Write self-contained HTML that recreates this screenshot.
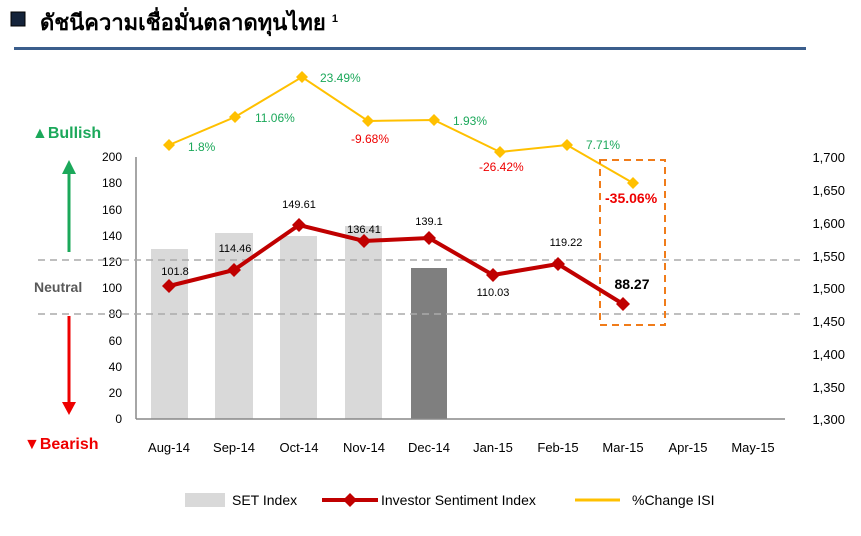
<!DOCTYPE html>
<html><head><meta charset="utf-8"><style>
body{margin:0;background:#fff;width:861px;height:531px;overflow:hidden;font-family:"Liberation Sans",Arial,sans-serif}
</style></head><body>
<svg width="861" height="531" xmlns="http://www.w3.org/2000/svg" font-family="Liberation Sans, Arial, sans-serif">
<rect x="11" y="12" width="14" height="14" fill="#14233a" stroke="#000" stroke-width="1"/>
<text x="40" y="30" font-size="22" font-weight="bold" font-family="Liberation Sans, DejaVu Sans, Noto Sans CJK SC, sans-serif" fill="#000">ดัชนีความเชื่อมั่นตลาดทุนไทย <tspan font-size="11" dy="-8">1</tspan></text>
<rect x="14" y="47" width="792" height="3" fill="#3b5e8c"/>
<g fill="#d9d9d9">
<rect x="151" y="249" width="37" height="170"/>
<rect x="215" y="233" width="38" height="186"/>
<rect x="280" y="236" width="37" height="183"/>
<rect x="345" y="226" width="37" height="193"/>
</g>
<rect x="411" y="268" width="36" height="151" fill="#7f7f7f"/>
<line x1="136" y1="157" x2="136" y2="419" stroke="#888" stroke-width="1.5"/>
<line x1="136" y1="419" x2="785" y2="419" stroke="#888" stroke-width="1.5"/>
<g font-size="12" fill="#000" text-anchor="end">
<text x="122" y="161">200</text><text x="122" y="187">180</text><text x="122" y="214">160</text><text x="122" y="240">140</text><text x="122" y="266">120</text><text x="122" y="292">100</text><text x="122" y="318">80</text><text x="122" y="345">60</text><text x="122" y="371">40</text><text x="122" y="397">20</text><text x="122" y="423">0</text>
</g>
<g font-size="13" fill="#000" text-anchor="end">
<text x="845" y="162">1,700</text><text x="845" y="195">1,650</text><text x="845" y="228">1,600</text><text x="845" y="261">1,550</text><text x="845" y="293">1,500</text><text x="845" y="326">1,450</text><text x="845" y="359">1,400</text><text x="845" y="392">1,350</text><text x="845" y="424">1,300</text>
</g>
<g stroke="#aaa" stroke-width="1.5" stroke-dasharray="7,5">
<line x1="38" y1="260" x2="800" y2="260"/><line x1="38" y1="314" x2="800" y2="314"/>
</g>
<text x="32" y="138" font-size="16" font-weight="bold" fill="#1ba85a">▲Bullish</text>
<line x1="69" y1="252" x2="69" y2="172" stroke="#1ba85a" stroke-width="3"/><polygon points="62,174 76,174 69,160" fill="#1ba85a"/>
<text x="34" y="292" font-size="14" font-weight="bold" fill="#595959">Neutral</text>
<line x1="69" y1="316" x2="69" y2="404" stroke="#e00" stroke-width="3"/><polygon points="62,402 76,402 69,415" fill="#e00"/>
<text x="24" y="449" font-size="16" font-weight="bold" fill="#e00">▼Bearish</text>
<polyline points="169,145 235,117 302,77 368,121 434,120 500,152 567,145 633,183" fill="none" stroke="#ffc000" stroke-width="2"/>
<g fill="#ffc000">
<polygon points="169,139 175,145 169,151 163,145"/><polygon points="235,111 241,117 235,123 229,117"/><polygon points="302,71 308,77 302,83 296,77"/><polygon points="368,115 374,121 368,127 362,121"/><polygon points="434,114 440,120 434,126 428,120"/><polygon points="500,146 506,152 500,158 494,152"/><polygon points="567,139 573,145 567,151 561,145"/><polygon points="633,177 639,183 633,189 627,183"/>
</g>
<g font-size="12">
<text x="188" y="151" fill="#1ba85a">1.8%</text>
<text x="255" y="122" fill="#1ba85a">11.06%</text>
<text x="320" y="82" fill="#1ba85a">23.49%</text>
<text x="351" y="143" fill="#e00">-9.68%</text>
<text x="453" y="125" fill="#1ba85a">1.93%</text>
<text x="479" y="171" fill="#e00">-26.42%</text>
<text x="586" y="149" fill="#1ba85a">7.71%</text>
<text x="605" y="203" fill="#e00" font-size="14" font-weight="bold">-35.06%</text>
</g>
<rect x="600" y="160" width="65" height="165" fill="none" stroke="#f07c1a" stroke-width="2" stroke-dasharray="7,5"/>
<polyline points="169,286 234,270 299,225 364,241 429,238 493,275 558,264 623,304" fill="none" stroke="#c00000" stroke-width="4"/>
<g fill="#c00000">
<polygon points="169,279 176,286 169,293 162,286"/><polygon points="234,263 241,270 234,277 227,270"/><polygon points="299,218 306,225 299,232 292,225"/><polygon points="364,234 371,241 364,248 357,241"/><polygon points="429,231 436,238 429,245 422,238"/><polygon points="493,268 500,275 493,282 486,275"/><polygon points="558,257 565,264 558,271 551,264"/><polygon points="623,297 630,304 623,311 616,304"/>
</g>
<g font-size="11" fill="#000" text-anchor="middle">
<text x="175" y="275">101.8</text><text x="235" y="252">114.46</text><text x="299" y="208">149.61</text><text x="364" y="233">136.41</text><text x="429" y="225">139.1</text><text x="493" y="296">110.03</text><text x="566" y="246">119.22</text>
<text x="632" y="289" font-size="14" font-weight="bold">88.27</text>
</g>
<g font-size="13" fill="#000" text-anchor="middle">
<text x="169" y="452">Aug-14</text><text x="234" y="452">Sep-14</text><text x="299" y="452">Oct-14</text><text x="364" y="452">Nov-14</text><text x="429" y="452">Dec-14</text><text x="493" y="452">Jan-15</text><text x="558" y="452">Feb-15</text><text x="623" y="452">Mar-15</text><text x="688" y="452">Apr-15</text><text x="753" y="452">May-15</text>
</g>
<rect x="185" y="493" width="40" height="14" fill="#d9d9d9"/>
<text x="232" y="505" font-size="14">SET Index</text>
<line x1="322" y1="500" x2="378" y2="500" stroke="#c00000" stroke-width="4"/>
<polygon points="350,493 357,500 350,507 343,500" fill="#c00000"/>
<text x="381" y="505" font-size="14">Investor Sentiment Index</text>
<line x1="575" y1="500" x2="620" y2="500" stroke="#ffc000" stroke-width="3"/>
<text x="632" y="505" font-size="14">%Change ISI</text>
</svg>
</body></html>
